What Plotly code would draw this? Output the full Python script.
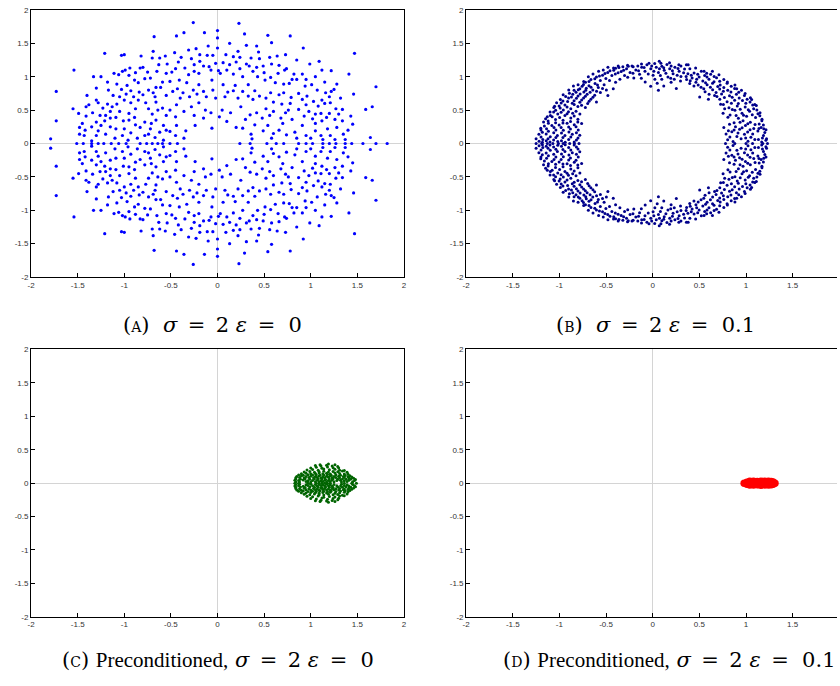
import plotly.graph_objects as go

# ---------------------------------------------------------------
# Eigenvalue spectra in the complex plane. Only the upper half-plane
# values (and the real ones) are listed: a real matrix has conjugate
# pairs, so the lower half is the mirror image.
# ---------------------------------------------------------------

# (A) sigma = 2, eps = 0
a_upper = [
    (-0.26, 1.81), (0.23, 1.80), (0.0, 1.69), (-0.36, 1.66), (-0.44, 1.61), (-0.14, 1.66),
    (0.29, 1.64), (0.54, 1.62), (0.78, 1.61), (-0.68, 1.60), (0.0, 1.58), (0.58, 1.51),
    (0.13, 1.50), (-0.10, 1.46), (0.31, 1.47), (0.42, 1.46), (0.92, 1.43), (-0.23, 1.42),
    (-0.31, 1.40), (-0.69, 1.38), (-0.46, 1.36), (-1.21, 1.35), (1.47, 1.35), (0.22, 1.38),
    (0.44, 1.37), (0.73, 1.33), (0.64, 1.31), (-1.0, 1.33), (-1.03, 1.32), (-0.82, 1.31),
    (-0.56, 1.31), (-0.70, 1.28), (-0.62, 1.28), (-0.39, 1.29), (-0.28, 1.27), (-0.19, 1.33),
    (-0.11, 1.32), (-0.05, 1.32), (0.0, 1.43), (0.09, 1.33), (0.17, 1.30), (0.24, 1.29),
    (0.36, 1.28), (0.45, 1.27), (0.56, 1.29), (0.85, 1.25), (1.09, 1.23), (0.99, 1.19),
    (-0.42, 1.22), (-0.19, 1.23), (-0.09, 1.15), (-0.15, 1.16), (0.06, 1.21), (0.13, 1.18),
    (0.31, 1.19), (0.34, 1.16), (0.42, 1.14), (0.49, 1.16), (0.58, 1.19), (0.66, 1.17),
    (0.74, 1.12), (0.82, 1.04), (0.91, 1.04), (1.05, 1.0), (1.12, 1.10), (1.22, 1.09),
    (1.41, 1.04), (-1.54, 1.10), (-1.33, 1.0), (-1.11, 1.05), (-0.94, 1.13), (-0.99, 1.10),
    (-0.83, 1.13), (-0.80, 1.14), (-0.75, 1.07), (-1.06, 1.03), (-1.02, 1.08), (-0.63, 1.18),
    (-0.54, 1.19), (-0.49, 1.07), (-0.55, 1.05), (-0.35, 1.13), (-0.31, 1.03), (-0.25, 1.08),
    (-0.07, 1.10), (0.01, 1.09), (0.03, 1.05), (0.17, 1.04), (0.27, 1.0), (0.24, 1.12),
    (0.43, 1.0), (0.57, 0.99), (0.51, 0.95), (0.62, 0.91), (0.71, 0.89), (0.77, 0.90),
    (0.85, 0.96), (0.94, 0.86), (1.01, 0.88), (1.07, 0.80), (1.16, 0.76), (1.25, 0.81),
    (1.28, 0.89), (1.46, 0.74), (1.70, 0.85), (-1.30, 0.83), (-1.40, 0.72), (-1.17, 0.80),
    (-1.08, 0.89), (-1.03, 0.81), (-0.97, 0.87), (-0.89, 0.95), (-0.85, 0.91), (-0.93, 0.79),
    (-0.84, 0.77), (-0.78, 0.97), (-0.72, 0.98), (-0.66, 0.84), (-0.69, 0.76), (-0.61, 0.84),
    (-0.59, 0.92), (-0.51, 0.93), (-0.41, 0.95), (-0.33, 0.91), (-0.43, 0.82), (-0.37, 0.76),
    (-0.26, 0.80), (-0.20, 0.88), (-0.15, 0.78), (-0.05, 0.80), (-0.06, 0.95), (0.06, 0.88),
    (0.11, 0.77), (0.17, 0.79), (0.19, 0.87), (0.27, 0.78), (0.33, 0.88), (0.40, 0.79),
    (0.33, 0.71), (0.45, 0.71), (0.57, 0.76), (0.66, 0.73), (0.71, 0.76), (0.79, 0.69),
    (0.87, 0.75), (0.91, 0.66), (0.96, 0.71), (1.03, 0.63), (1.12, 0.65), (1.21, 0.61),
    (1.66, 0.55), (1.59, 0.51), (1.27, 0.52), (1.34, 0.51), (-1.55, 0.52), (-1.49, 0.45),
    (-1.41, 0.55), (-1.41, 0.41), (-1.28, 0.61), (-1.23, 0.53), (-1.34, 0.46), (-1.18, 0.59),
    (-1.13, 0.55), (-1.08, 0.59), (-1.0, 0.65), (-0.93, 0.61), (-0.85, 0.65), (-0.77, 0.61),
    (-0.74, 0.52), (-0.66, 0.62), (-0.64, 0.50), (-0.59, 0.53), (-0.51, 0.50), (-0.44, 0.58),
    (-0.36, 0.48), (-0.28, 0.55), (-0.20, 0.61), (-0.13, 0.50), (-0.07, 0.46), (0.05, 0.50),
    (0.14, 0.46), (0.25, 0.55), (0.35, 0.43), (0.42, 0.46), (0.52, 0.52), (0.60, 0.48),
    (0.69, 0.59), (0.73, 0.46), (0.80, 0.36), (0.87, 0.51), (0.93, 0.41), (1.02, 0.37),
    (1.11, 0.45), (1.12, 0.34), (1.17, 0.39), (1.26, 0.36), (1.34, 0.34), (1.43, 0.41),
    (1.45, 0.29), (-1.73, 0.34), (-1.79, 0.07), (-1.73, 0.78), (-1.30, 0.32), (-1.25, 0.27),
    (-1.21, 0.34), (-1.15, 0.38), (-1.09, 0.39), (-1.01, 0.34), (-0.95, 0.35), (-0.89, 0.39),
    (-0.83, 0.24), (-0.78, 0.32), (-0.71, 0.30), (-0.66, 0.35), (-0.58, 0.27), (-0.51, 0.18),
    (-0.44, 0.27), (-0.36, 0.08), (-0.34, 0.19), (-0.24, 0.27), (-0.06, 0.23), (0.20, 0.24),
    (0.27, 0.23), (0.36, 0.14), (0.37, 0.07), (0.49, 0.19), (0.54, 0.27), (0.60, 0.15),
    (0.66, 0.20), (0.74, 0.13), (0.83, 0.17), (0.91, 0.27), (0.95, 0.12), (1.05, 0.19),
    (1.11, 0.12), (1.13, 0.06), (1.21, 0.12), (1.26, 0.06), (1.35, 0.14), (1.37, 0.06),
    (1.64, 0.09), (-1.48, 0.24), (-1.48, 0.14), (-1.43, 0.12), (-1.35, 0.04), (-1.20, 0.14),
    (-1.28, 0.19), (-1.09, 0.22), (-1.02, 0.12), (-0.93, 0.16), (-0.86, 0.08), (-0.74, 0.14),
    (-0.67, 0.09), (-0.62, 0.17),
    (-1.12, 0.72), (-1.05, 0.70), (-0.98, 0.74), (-0.90, 0.70), (-0.80, 0.73), (-0.74, 0.80),
    (-0.67, 0.70), (-0.55, 0.72), (-0.48, 0.78), (-0.40, 0.68), (-0.30, 0.70), (-0.22, 0.74),
    (-0.12, 0.70), (-0.02, 0.68), (0.08, 0.70), (0.22, 0.68), (0.38, 0.66), (0.52, 0.68),
    (0.60, 0.62), (0.78, 0.60), (0.95, 0.58), (1.08, 0.56), (1.15, 0.60), (-1.20, 0.42),
    (-1.05, 0.48), (-0.95, 0.45), (-0.88, 0.52), (-0.70, 0.44), (-0.55, 0.42), (-0.45, 0.40),
    (-0.25, 0.42), (-0.15, 0.38), (0.02, 0.40), (0.10, 0.33), (0.30, 0.36), (0.48, 0.38),
    (0.56, 0.42), (0.68, 0.38), (0.76, 0.50), (0.98, 0.48), (1.05, 0.44), (1.20, 0.45),
    (1.30, 0.44), (-1.15, 0.25), (-1.00, 0.22), (-0.88, 0.28), (-0.72, 0.22), (-0.55, 0.20),
    (-0.45, 0.12), (0.40, 0.28), (0.58, 0.08), (0.70, 0.30), (0.85, 0.08), (1.00, 0.08),
    (1.05, 0.30), (1.18, 0.22), (1.28, 0.24), (1.40, 0.20), (-1.25, 1.0), (-1.18, 0.92),
    (-0.95, 1.02), (-0.88, 1.06), (-0.65, 1.08), (-0.45, 1.12), (-0.25, 1.18), (-0.20, 1.05),
    (-0.02, 1.20), (0.10, 1.10), (0.20, 1.22), (0.38, 1.08), (0.50, 1.06), (0.65, 1.05),
    (0.72, 1.10), (0.80, 0.96), (0.95, 0.96), (1.15, 0.92), (1.20, 0.70), (1.32, 0.68),
    (1.22, 0.78), (-1.30, 0.65), (-1.38, 0.58), (-1.45, 0.30), (-1.42, 0.20), (-1.30, 0.12),
    (-1.35, 0.25), (-1.26, 0.42), (-1.15, 0.48), (-1.10, 0.08), (-0.96, 0.05), (-0.78, 0.12),
    (-0.58, 0.05),
]
a_real = [-1.51, -1.44, -1.35, -1.28, -1.22, -1.14, -1.06, -0.98, -0.83, -0.76, -0.70,
          -0.64, -0.59, -0.51, -0.43, 0.24, 0.35, 0.53, 0.63, 0.71, 0.87, 0.95, 1.02,
          1.13, 1.20, 1.27, 1.37, 1.44, 1.56, 1.70, 1.82]

# (B) sigma = 2, eps = 0.1
b_upper = [
    # outer rim
    (0.07, 1.23), (-0.04, 1.20), (-0.12, 1.19), (-0.16, 1.16), (-0.21, 1.15), (-0.27, 1.17),
    (-0.32, 1.15), (-0.37, 1.16), (-0.42, 1.13), (-0.48, 1.14), (-0.53, 1.10), (-0.58, 1.08),
    (-0.64, 1.04), (-0.69, 1.0), (-0.74, 0.93), (-0.80, 0.88), (-0.85, 0.86), (-0.90, 0.80),
    (-0.96, 0.73), (-0.99, 0.66), (-1.03, 0.61), (-1.06, 0.54), (-1.10, 0.47), (-1.13, 0.40),
    (-1.17, 0.32), (-1.20, 0.23), (-1.22, 0.14), (-1.25, 0.07), (0.18, 1.21), (0.28, 1.18),
    (0.38, 1.18), (0.46, 1.13), (0.55, 1.08), (0.64, 1.08), (0.71, 1.03), (0.80, 0.92),
    (0.90, 0.82), (0.99, 0.75), (1.06, 0.66), (1.11, 0.57), (1.15, 0.46), (1.17, 0.34),
    (1.19, 0.22), (1.22, 0.07),
    # right
    (1.213, 0.047), (1.168, 0.021), (1.094, 0.061), (1.021, 0.034), (0.947, 0.072),
    (0.861, 0.029), (0.803, 0.055), (1.187, 0.118), (1.052, 0.094), (0.983, 0.137),
    (0.902, 0.103), (0.786, 0.141), (1.201, 0.163), (1.127, 0.188), (1.017, 0.171),
    (0.931, 0.214), (0.848, 0.176), (1.162, 0.241), (1.083, 0.226), (0.994, 0.269),
    (0.887, 0.252), (0.762, 0.238), (1.141, 0.293), (1.046, 0.318), (0.968, 0.342),
    (0.872, 0.311), (1.171, 0.364), (1.102, 0.391), (1.006, 0.407), (0.918, 0.377),
    (0.829, 0.428), (1.128, 0.447), (1.038, 0.482), (0.957, 0.452), (0.881, 0.497),
    (0.754, 0.452), (1.082, 0.521), (0.991, 0.548), (0.906, 0.561), (0.817, 0.536),
    (0.728, 0.588), (1.176, 0.083), (1.133, 0.059), (1.071, 0.142), (0.996, 0.082),
    (0.914, 0.157), (0.827, 0.097), (1.214, 0.204), (1.138, 0.226), (1.043, 0.207),
    (0.958, 0.236), (0.872, 0.203), (0.811, 0.192), (1.186, 0.276), (1.097, 0.283),
    (1.019, 0.297), (0.936, 0.318), (0.823, 0.289), (1.148, 0.414), (1.067, 0.431),
    (0.973, 0.424), (0.894, 0.418), (0.806, 0.392), (1.116, 0.503), (1.024, 0.506),
    (0.938, 0.514), (0.853, 0.508), (0.771, 0.521),
    # upper right
    (1.094, 0.583), (1.043, 0.621), (0.962, 0.644), (0.878, 0.647), (0.797, 0.626),
    (0.719, 0.663), (1.047, 0.684), (0.983, 0.719), (0.897, 0.738), (0.823, 0.716),
    (0.738, 0.742), (0.663, 0.718), (0.597, 0.661), (0.951, 0.797), (0.878, 0.823),
    (0.804, 0.796), (0.718, 0.817), (0.642, 0.803), (0.561, 0.776), (0.503, 0.698),
    (0.881, 0.877), (0.797, 0.903), (0.723, 0.876), (0.657, 0.924), (0.583, 0.879),
    (0.518, 0.842), (0.442, 0.861), (0.762, 0.957), (0.684, 0.983), (0.603, 0.961),
    (0.537, 0.937), (0.463, 0.918), (0.397, 0.897), (0.621, 1.038), (0.557, 1.017),
    (0.497, 0.996), (0.422, 0.981), (0.363, 0.958), (0.521, 1.083), (0.443, 1.057),
    (0.377, 1.043), (0.302, 1.002), (1.071, 0.576), (0.998, 0.604), (0.917, 0.597),
    (0.843, 0.603), (0.757, 0.584), (1.012, 0.661), (0.927, 0.682), (0.852, 0.693),
    (0.768, 0.688), (0.688, 0.703), (0.922, 0.768), (0.838, 0.772), (0.757, 0.783),
    (0.679, 0.762), (0.604, 0.738), (0.841, 0.857), (0.762, 0.838), (0.697, 0.853),
    (0.618, 0.842), (0.547, 0.818), (0.718, 0.932), (0.641, 0.903), (0.566, 0.908),
    (0.487, 0.877), (0.658, 1.002), (0.582, 0.996), (0.471, 0.963), (0.402, 0.941),
    (0.578, 1.052), (0.482, 1.038), (0.413, 1.021),
    # top
    (0.341, 1.117), (0.283, 1.081), (0.218, 1.043), (0.163, 0.996), (0.097, 0.962),
    (0.302, 1.162), (0.238, 1.141), (0.182, 1.118), (0.123, 1.097), (0.061, 1.063),
    (0.004, 1.021), (0.152, 1.183), (0.098, 1.157), (0.038, 1.142), (-0.021, 1.118),
    (-0.083, 1.082), (-0.141, 1.038), (0.021, 1.197), (-0.062, 1.178), (-0.118, 1.143),
    (-0.181, 1.102), (-0.243, 1.063), (-0.302, 1.018), (-0.222, 1.162), (-0.281, 1.121),
    (-0.338, 1.079), (-0.401, 1.042), (-0.362, 1.138), (-0.418, 1.097), (-0.482, 1.063),
    (-0.538, 1.021), (0.197, 0.918), (0.048, 0.903), (-0.081, 0.922), (0.061, 0.797),
    (-0.022, 0.858), (0.298, 0.937), (-0.203, 0.982), (-0.352, 0.961), (-0.463, 0.942),
    (0.253, 0.823), (0.118, 0.861), (0.398, 1.121), (0.331, 1.058), (0.262, 1.022),
    (0.193, 0.978), (0.361, 1.178), (0.271, 1.122), (0.211, 1.088), (0.141, 1.052),
    (0.082, 1.018), (0.197, 1.161), (0.118, 1.133), (0.072, 1.118), (0.012, 1.082),
    (-0.048, 1.041), (0.088, 1.203), (-0.011, 1.162), (-0.092, 1.138), (-0.152, 1.091),
    (-0.212, 1.053), (-0.262, 1.158), (-0.312, 1.098), (-0.371, 1.061), (-0.438, 1.018),
    (-0.398, 1.128), (-0.458, 1.088), (-0.512, 1.048), (-0.571, 1.012), (0.023, 0.963),
    (-0.122, 0.977), (-0.268, 0.993), (0.231, 0.962), (0.358, 1.003), (-0.398, 0.918),
    (-0.502, 0.972),
    # upper left
    (-0.603, 0.997), (-0.662, 0.958), (-0.721, 0.918), (-0.562, 0.942), (-0.618, 0.897),
    (-0.683, 0.863), (-0.757, 0.858), (-0.521, 0.878), (-0.583, 0.838), (-0.642, 0.801),
    (-0.718, 0.797), (-0.798, 0.803), (-0.497, 0.802), (-0.561, 0.763), (-0.622, 0.721),
    (-0.703, 0.738), (-0.778, 0.742), (-0.857, 0.738), (-0.663, 0.662), (-0.741, 0.683),
    (-0.818, 0.677), (-0.902, 0.681), (-0.962, 0.638), (-0.603, 0.621), (-0.697, 0.598),
    (-0.781, 0.618), (-0.862, 0.603), (-0.941, 0.577), (-1.003, 0.561), (-0.722, 0.538),
    (-0.802, 0.553), (-0.878, 0.521), (-0.958, 0.502), (-1.041, 0.498), (-0.481, 0.718),
    (-0.423, 0.821), (-0.621, 0.968), (-0.683, 0.928), (-0.742, 0.882), (-0.592, 0.877),
    (-0.661, 0.842), (-0.712, 0.828), (-0.781, 0.818), (-0.843, 0.798), (-0.538, 0.822),
    (-0.602, 0.781), (-0.671, 0.768), (-0.738, 0.771), (-0.822, 0.767), (-0.893, 0.752),
    (-0.641, 0.692), (-0.722, 0.708), (-0.801, 0.712), (-0.871, 0.697), (-0.933, 0.702),
    (-0.682, 0.631), (-0.762, 0.652), (-0.843, 0.641), (-0.912, 0.628), (-0.981, 0.608),
    (-0.763, 0.572), (-0.842, 0.582), (-0.918, 0.548), (-0.992, 0.532), (-1.052, 0.558),
    # left
    (-0.781, 0.441), (-0.858, 0.452), (-0.941, 0.418), (-1.018, 0.443), (-1.097, 0.418),
    (-0.802, 0.362), (-0.878, 0.381), (-0.961, 0.348), (-1.042, 0.361), (-1.121, 0.338),
    (-0.762, 0.298), (-0.841, 0.281), (-0.918, 0.302), (-1.003, 0.278), (-1.081, 0.271),
    (-1.161, 0.262), (-0.798, 0.203), (-0.882, 0.218), (-0.958, 0.197), (-1.038, 0.202),
    (-1.118, 0.182), (-1.183, 0.168), (-0.782, 0.122), (-0.862, 0.138), (-0.941, 0.118),
    (-1.022, 0.121), (-1.098, 0.102), (-1.197, 0.098), (-0.818, 0.053), (-0.901, 0.061),
    (-0.978, 0.042), (-1.062, 0.052), (-1.141, 0.041), (-1.218, 0.032), (-0.822, 0.483),
    (-0.903, 0.477), (-0.982, 0.468), (-1.062, 0.472), (-0.842, 0.412), (-0.918, 0.447),
    (-0.998, 0.391), (-1.078, 0.402), (-1.148, 0.371), (-0.803, 0.322), (-0.881, 0.331),
    (-0.962, 0.308), (-1.041, 0.312), (-1.118, 0.302), (-0.822, 0.251), (-0.901, 0.248),
    (-0.982, 0.241), (-1.058, 0.238), (-1.138, 0.222), (-1.198, 0.203), (-0.818, 0.162),
    (-0.898, 0.171), (-0.978, 0.158), (-1.061, 0.161), (-1.142, 0.141), (-0.801, 0.081),
    (-0.878, 0.098), (-0.962, 0.091), (-1.038, 0.088), (-1.122, 0.071), (-1.178, 0.061),
    (-0.842, 0.022), (-0.938, 0.018), (-1.018, 0.028), (-1.101, 0.021), (-1.182, 0.017),
]
b_real = [-1.25, -1.19, -1.13, -1.07, -1.01, -0.96, -0.89, -0.84, -0.79,
          0.78, 0.88, 1.00, 1.07, 1.18, 1.23]

# (C) preconditioned, sigma = 2, eps = 0
c_upper = [
    (0.84, 0.021), (0.88, 0.017), (0.95, 0.024), (1.00, 0.016), (1.05, 0.022), (1.09, 0.019),
    (1.13, 0.025), (1.17, 0.017), (1.21, 0.023), (1.25, 0.020), (1.33, 0.018), (1.39, 0.024),
    (1.45, 0.020),
    (0.83, 0.042), (0.87, 0.038), (0.92, 0.045), (0.97, 0.036), (1.02, 0.041), (1.07, 0.044),
    (1.11, 0.037), (1.15, 0.043), (1.19, 0.039), (1.23, 0.046), (1.28, 0.038), (1.32, 0.042),
    (1.36, 0.035), (1.41, 0.044), (1.47, 0.040),
    (0.84, 0.062), (0.89, 0.058), (0.94, 0.065), (0.99, 0.057), (1.04, 0.063), (1.08, 0.060),
    (1.12, 0.066), (1.16, 0.056), (1.20, 0.061), (1.24, 0.064), (1.29, 0.059), (1.34, 0.062),
    (1.38, 0.057), (1.43, 0.063), (1.48, 0.055),
    (0.84, 0.081), (0.88, 0.085), (0.93, 0.078), (0.98, 0.083), (1.03, 0.080), (1.07, 0.086),
    (1.11, 0.077), (1.15, 0.082), (1.19, 0.087), (1.23, 0.079), (1.27, 0.084), (1.31, 0.080),
    (1.36, 0.086), (1.41, 0.078), (1.46, 0.074),
    (0.85, 0.101), (0.90, 0.106), (0.95, 0.098), (1.00, 0.104), (1.05, 0.100), (1.09, 0.107),
    (1.13, 0.097), (1.17, 0.103), (1.21, 0.108), (1.25, 0.099), (1.30, 0.104), (1.35, 0.100),
    (1.40, 0.096), (1.44, 0.092),
    (0.87, 0.122), (0.92, 0.118), (0.97, 0.125), (1.02, 0.120), (1.06, 0.127), (1.10, 0.117),
    (1.14, 0.123), (1.18, 0.128), (1.22, 0.119), (1.27, 0.124), (1.32, 0.118), (1.37, 0.115),
    (1.42, 0.112),
    (0.90, 0.142), (0.95, 0.147), (1.00, 0.139), (1.05, 0.145), (1.09, 0.150), (1.13, 0.141),
    (1.17, 0.146), (1.21, 0.138), (1.26, 0.152), (1.31, 0.143), (1.36, 0.137), (1.40, 0.134),
    (0.93, 0.168), (0.99, 0.175), (1.04, 0.163), (1.09, 0.172), (1.14, 0.178), (1.19, 0.166),
    (1.24, 0.174), (1.29, 0.169), (1.34, 0.180), (1.39, 0.162),
    (0.96, 0.196), (1.02, 0.205), (1.08, 0.192), (1.14, 0.210), (1.20, 0.199), (1.26, 0.206),
    (1.31, 0.194), (1.36, 0.188),
    (1.00, 0.228), (1.06, 0.236), (1.12, 0.222), (1.18, 0.240), (1.24, 0.231), (1.30, 0.226),
    (1.05, 0.262), (1.11, 0.255), (1.17, 0.268), (1.23, 0.258), (1.29, 0.250),
    (1.10, 0.275), (1.19, 0.285), (1.26, 0.276),
]
c_real = [0.83, 0.87, 0.97, 1.00, 1.06, 1.09, 1.12, 1.15, 1.18, 1.21, 1.36, 1.44, 1.49]

# (D) preconditioned, sigma = 2, eps = 0.1
d_upper = [
    (1.01, 0.015), (1.05, 0.018), (1.09, 0.016), (1.13, 0.019), (1.17, 0.015), (1.21, 0.018),
    (1.25, 0.016), (1.29, 0.017), (1.04, 0.027), (1.08, 0.029), (1.12, 0.026), (1.16, 0.030),
    (1.20, 0.027), (1.24, 0.029), (1.27, 0.026),
]
d_real = [0.98, 1.02, 1.06, 1.10, 1.14, 1.18, 1.22, 1.26, 1.31]

# Axis ticks shared by every panel
tick_vals = [-2, -1.5, -1, -0.5, 0, 0.5, 1, 1.5, 2]
tick_text = ["-2", "-1.5", "-1", "-0.5", "0", "0.5", "1", "1.5", "2"]

# Panel captions: small-caps letter, text word, then the parameter values
SP = "&nbsp;"
EN = "\u2002"  # en space, for math-style gaps around "="
LETTER = "(<span style='font-size:14px'>{}</span>)"
WORD = "<span style='font-family:Liberation Serif, serif; font-size:21px'>Preconditioned,</span>"


def params(eps):
    return ("<i>σ</i>" + EN + "=" + EN + "2" + SP + "<i>ε</i>"
            + EN + "=" + SP * 2 + eps)


captions = [
    LETTER.format("A") + SP * 2 + params("0"),
    LETTER.format("B") + SP * 2 + params("0.1"),
    LETTER.format("C") + SP + WORD + SP + params("0"),
    LETTER.format("D") + SP + WORD + SP + params("0.1"),
]


def with_conjugates(upper, real):
    re = [p[0] for p in upper] + [p[0] for p in upper] + list(real)
    im = [p[1] for p in upper] + [-p[1] for p in upper] + [0.0] * len(real)
    return re, im


W, H = 840, 686
panels = [
    # data, colour, marker size, x-domain (px), y-domain (px top, bottom), x max, boxed
    (with_conjugates(a_upper, a_real), "#0000ff", 3.2, (27.3, 403.3), (6.0, 276.7), 2.0, True),
    (with_conjugates(b_upper, b_real), "#00008b", 3.0, (466.0, 840.0), (6.0, 276.7), 1.975, False),
    (with_conjugates(c_upper, c_real), "#006400", 3.0, (27.3, 403.3), (350.0, 621.0), 2.0, True),
    (with_conjugates(d_upper, d_real), "#ff0000", 7.5, (466.0, 840.0), (350.0, 621.0), 1.975, False),
]

fig = go.Figure()
layout = {}
for i, ((re, im), color, msize, (x0, x1), (ytop, ybot), xmax, boxed) in enumerate(panels):
    k = "" if i == 0 else str(i + 1)
    fig.add_trace(go.Scatter(
        x=re, y=im, mode="markers", xaxis="x" + k, yaxis="y" + k,
        marker=dict(color=color, size=msize, line=dict(width=0)),
        showlegend=False, hoverinfo="skip",
    ))
    common = dict(
        tickvals=tick_vals, ticktext=tick_text, ticks="inside", ticklen=4,
        tickcolor="#000", tickwidth=1, showgrid=False,
        zeroline=True, zerolinecolor="#d4d4d4", zerolinewidth=1,
        showline=True, linecolor="#000", linewidth=1,
        tickfont=dict(family="Liberation Sans, Arial, sans-serif", size=8, color="#333"),
        fixedrange=True,
    )
    layout["xaxis" + k] = dict(
        common, domain=[x0 / W, x1 / W], range=[-2, xmax],
        anchor="y" + k, mirror=True,
    )
    layout["yaxis" + k] = dict(
        common, domain=[1 - ybot / H, 1 - ytop / H], range=[-2, 2],
        anchor="x" + k, mirror=boxed,
    )

caption_pos = [(210, 325), (657, 325), (216, 665), (671, 665)]
annotations = []
for text, (cx, cy) in zip(captions, caption_pos):
    annotations.append(dict(
        text=text, x=cx / W, y=1 - cy / H, xref="paper", yref="paper",
        xanchor="center", yanchor="middle", showarrow=False,
        font=dict(family="DejaVu Serif, serif", size=21, color="#000"),
    ))

fig.update_layout(
    width=W, height=H, margin=dict(l=0, r=0, t=0, b=0),
    paper_bgcolor="#fff", plot_bgcolor="#fff",
    annotations=annotations, **layout,
)

fig.write_html("out.html", include_plotlyjs=True, config={"displayModeBar": False})
